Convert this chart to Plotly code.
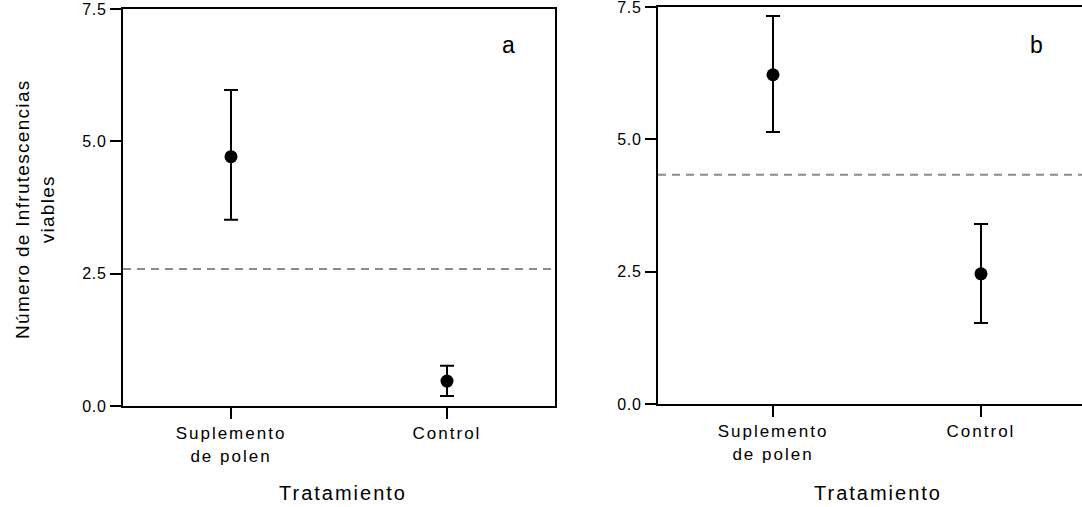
import plotly.graph_objects as go

W, H = 1082, 507

categories = ["Suplemento de polen", "Control"]
tick_labels = ["Suplemento<br>de polen", "Control"]

# Panel a
a_mean = [4.71, 0.47]
a_upper = [5.97, 0.76]
a_lower = [3.52, 0.19]
a_ref = 2.59

# Panel b
b_mean = [6.22, 2.46]
b_upper = [7.33, 3.40]
b_lower = [5.14, 1.53]
b_ref = 4.33

y_ticks = [0.0, 2.5, 5.0, 7.5]

FONT = "Liberation Sans, Arial, sans-serif"


def px_x(p):
    return p / W


def px_y(p):
    return 1 - p / H


def sp(text, ls):
    return "<br>".join(f'<span style="letter-spacing:{ls}px">{t}</span>' for t in text.split("<br>"))


xpos = [0, 1]

fig = go.Figure()


def add_panel(mean, upper, lower, xa, ya):
    fig.add_trace(go.Scatter(
        x=xpos, y=mean, mode="markers",
        marker=dict(color="black", size=13),
        error_y=dict(type="data", symmetric=False,
                     array=[u - m for u, m in zip(upper, mean)],
                     arrayminus=[m - l for m, l in zip(mean, lower)],
                     color="black", thickness=2, width=7),
        xaxis=xa, yaxis=ya, showlegend=False, hoverinfo="skip"))


add_panel(a_mean, a_upper, a_lower, "x", "y")
add_panel(b_mean, b_upper, b_lower, "x2", "y2")

ytick_font = dict(family=FONT, size=16, color="black")
xtick_font = dict(family=FONT, size=17, color="black")
ytext = [sp(f"{v:.1f}", 0.8) for v in y_ticks]
xtext = [sp(t, 2) for t in tick_labels]

common_x = dict(tickmode="array", tickvals=xpos, ticktext=xtext, ticks="outside",
                ticklen=11, tickwidth=2, tickcolor="black", showline=True, linecolor="black",
                linewidth=2, showgrid=False, zeroline=False, tickfont=xtick_font,
                fixedrange=True, automargin=False, ticklabeloverflow="allow")
common_y = dict(range=[0, 7.5], tickmode="array", tickvals=y_ticks, ticktext=ytext,
                ticks="outside", ticklen=11, tickwidth=2, tickcolor="black", showline=True,
                linecolor="black", linewidth=2, showgrid=False, zeroline=False,
                tickfont=ytick_font, fixedrange=True, automargin=False,
                ticklabeloverflow="allow")

bx0 = -(773 - 658) / 208
bx1 = (1082 - 773) / 208

fig.update_layout(
    width=W, height=H, autosize=False,
    margin=dict(l=0, r=0, t=0, b=0, pad=0, autoexpand=False),
    paper_bgcolor="white", plot_bgcolor="white",
    xaxis=dict(domain=[px_x(123), px_x(555)], range=[-0.5, 1.5], mirror=True, anchor="y", **common_x),
    yaxis=dict(domain=[px_y(406), px_y(9)], mirror=True, anchor="x", **common_y),
    xaxis2=dict(domain=[px_x(658), 1.0], range=[bx0, bx1], mirror=True, anchor="y2", **common_x),
    yaxis2=dict(domain=[px_y(404), px_y(7)], mirror=False, anchor="x2", **common_y),
)

dash = dict(color="#8a8a8a", width=2, dash="8px,6px")
fig.add_shape(type="line", xref="x domain", yref="y", x0=0, x1=1, y0=a_ref, y1=a_ref, line=dash)
fig.add_shape(type="line", xref="x2 domain", yref="y2", x0=0, x1=1, y0=b_ref, y1=b_ref, line=dash)

title_font = dict(family=FONT, size=20, color="black")
for cx in (343, 878):
    fig.add_annotation(xref="paper", yref="paper", x=px_x(cx), y=px_y(493),
                       xanchor="center", yanchor="middle",
                       text=sp("Tratamiento", 2), showarrow=False, font=title_font)
fig.add_annotation(xref="paper", yref="paper", x=px_x(35), y=px_y(209),
                   xanchor="center", yanchor="middle",
                   text=sp("Número de Infrutescencias<br>viables", 1.3), textangle=-90,
                   showarrow=False, font=dict(family=FONT, size=19, color="black"))
fig.add_annotation(xref="paper", yref="paper", x=px_x(508), y=px_y(45),
                   xanchor="center", yanchor="middle",
                   text="a", showarrow=False, font=dict(family=FONT, size=23, color="black"))
fig.add_annotation(xref="paper", yref="paper", x=px_x(1036), y=px_y(45),
                   xanchor="center", yanchor="middle",
                   text="b", showarrow=False, font=dict(family=FONT, size=23, color="black"))

fig.write_html("out.html")
